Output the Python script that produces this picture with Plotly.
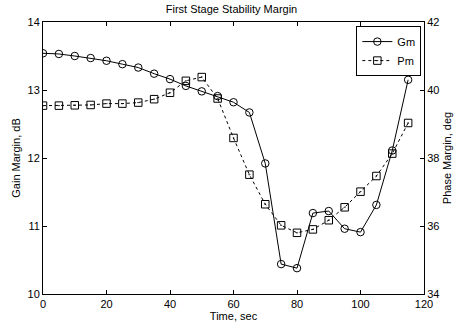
import plotly.graph_objects as go

# Stability margins of the first stage versus flight time
time_s = [0, 5, 10, 15, 20, 25, 30, 35, 40, 45, 50, 55, 60, 65, 70, 75, 80, 85, 90, 95, 100, 105, 110, 115]
gain_margin_db = [13.54, 13.53, 13.50, 13.47, 13.43, 13.38, 13.33, 13.24, 13.16, 13.06, 12.98, 12.91,
                  12.82, 12.67, 11.92, 10.44, 10.38, 11.19, 11.22, 10.96, 10.91, 11.31, 12.11, 13.15]
phase_margin_deg = [39.54, 39.54, 39.55, 39.56, 39.60, 39.60, 39.63, 39.73, 39.92, 40.27, 40.38, 39.75,
                    38.59, 37.51, 36.64, 36.02, 35.80, 35.90, 36.17, 36.55, 37.01, 37.47, 38.13, 39.03]

FONT = "Liberation Sans, Arial, Helvetica, sans-serif"

fig = go.Figure()
fig.add_trace(go.Scatter(
    x=time_s, y=gain_margin_db, name="Gm", mode="lines+markers",
    line=dict(color="black", width=1, dash="solid"),
    marker=dict(symbol="circle-open", size=7.5, color="black", line=dict(width=1)),
    yaxis="y",
))
fig.add_trace(go.Scatter(
    x=time_s, y=phase_margin_deg, name="Pm", mode="lines+markers",
    line=dict(color="black", width=1, dash="dot"),
    marker=dict(symbol="square-open-dot", size=7.5, color="black", line=dict(width=1)),
    yaxis="y2",
))

axis_common = dict(
    showgrid=False, zeroline=False, showline=True, linecolor="black", linewidth=1,
    ticks="inside", ticklen=4, tickcolor="black",
    tickfont=dict(family=FONT, size=11, color="black"),
)

fig.update_layout(
    width=463, height=332,
    margin=dict(l=43, r=31, t=22, b=33),
    paper_bgcolor="white", plot_bgcolor="white",
    font=dict(family=FONT, size=11, color="black"),
    title=dict(text="First Stage Stability Margin", x=0.5, xanchor="center",
               y=0.972, yanchor="middle", font=dict(family=FONT, size=11, color="black")),
    xaxis=dict(range=[0, 120], dtick=20, mirror="ticks",
               title=dict(text="Time, sec", standoff=2, font=dict(family=FONT, size=11)),
               **axis_common),
    yaxis=dict(range=[10, 14], dtick=1,
               title=dict(text="Gain Margin, dB", standoff=4, font=dict(family=FONT, size=11)),
               **axis_common),
    yaxis2=dict(range=[34, 42], dtick=2, overlaying="y", side="right",
                title=dict(text="Phase Margin, deg", standoff=4, font=dict(family=FONT, size=11)),
                **axis_common),
    showlegend=True,
    legend=dict(x=0.993, y=0.985, xanchor="right", yanchor="top",
                bgcolor="white", bordercolor="black", borderwidth=1,
                font=dict(family=FONT, size=11, color="black"),
                itemwidth=30, tracegroupgap=0),
)

fig.write_html("out.html")
